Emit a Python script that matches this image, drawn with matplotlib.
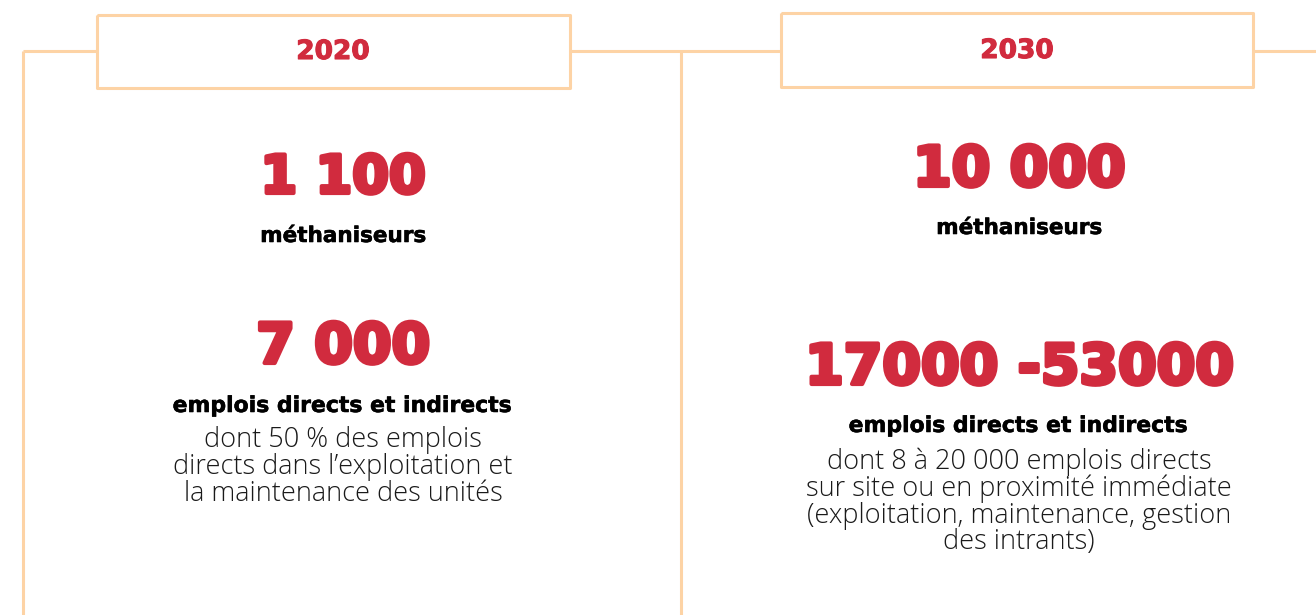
import matplotlib.pyplot as plt
import matplotlib.patheffects as pe

RED = "#d12b3e"
PEACH = "#fdd3a5"
W, H = 1316, 615

years = ["2020", "2030"]
units_counts = ["1 100", "10 000"]
units_label = "méthaniseurs"
jobs_counts = ["7 000", "17000 -53000"]
jobs_label = "emplois directs et indirects"
jobs_details = [
    [
        "dont 50 % des emplois",
        "directs dans l’exploitation et",
        "la maintenance des unités",
    ],
    [
        "dont 8 à 20 000 emplois directs",
        "sur site ou en proximité immédiate",
        "(exploitation, maintenance, gestion",
        "des intrants)",
    ],
]

HEAVY = ["DejaVu Sans"]
BODY = ["Open Sans", "DejaVu Sans"]


def _draw_frame(ax):
    kw = dict(color=PEACH, lw=2.2, solid_capstyle="butt", zorder=1)
    # connector line running under the two year boxes
    ax.plot([23, 97], [51, 51], **kw)
    ax.plot([570, 781], [51, 51], **kw)
    ax.plot([1253, W], [51, 51], **kw)
    # column separators
    ax.plot([23, 23], [51, H], **kw)
    ax.plot([681, 681], [51, H], **kw)
    # year boxes
    for x0, x1, y0, y1 in [(97, 570, 15, 88), (781, 1253, 13, 87)]:
        ax.plot([x0, x1, x1, x0, x0], [y0, y0, y1, y1, y0], **kw)


def _heavy(ax, x, y, s, size, color, stroke):
    t = ax.text(x, y, s, ha="center", va="center", color=color,
                fontsize=size, fontweight="bold", family=HEAVY)
    if stroke:
        t.set_path_effects([pe.withStroke(linewidth=stroke, foreground=color)])
    return t


def main():
    fig = plt.figure(figsize=(W / 100, H / 100), dpi=100)
    ax = fig.add_axes([0, 0, 1, 1])
    ax.set_xlim(0, W)
    ax.set_ylim(H, 0)
    ax.axis("off")

    _draw_frame(ax)

    centers = [343, 1019]
    year_x = [333, 1017]
    year_y = [52, 51]
    units_y = [(178, 236), (171, 228)]
    jobs_y = [(348, 406), (369, 426)]
    number_size = [[38, 40], [40, 40]]
    detail_y0 = [440, 462]
    line_step = 26.8

    for i, cx in enumerate(centers):
        _heavy(ax, year_x[i], year_y[i], years[i], 19, RED, 0.8)
        _heavy(ax, cx, units_y[i][0], units_counts[i], number_size[i][0], RED, 3)
        _heavy(ax, cx, units_y[i][1], units_label, 15.5, "black", 0.4)
        _heavy(ax, cx, jobs_y[i][0], jobs_counts[i], number_size[i][1], RED, 3)
        _heavy(ax, cx, jobs_y[i][1], jobs_label, 15.8, "black", 0.4)
        for j, line in enumerate(jobs_details[i]):
            ax.text(cx, detail_y0[i] + j * line_step, line, ha="center",
                    va="center", color="#1a1a1a", fontsize=19.5,
                    fontweight="light", family=BODY)

    fig.savefig("out.png", dpi=100, facecolor="white")
    plt.close(fig)


if __name__ == "__main__":
    main()
